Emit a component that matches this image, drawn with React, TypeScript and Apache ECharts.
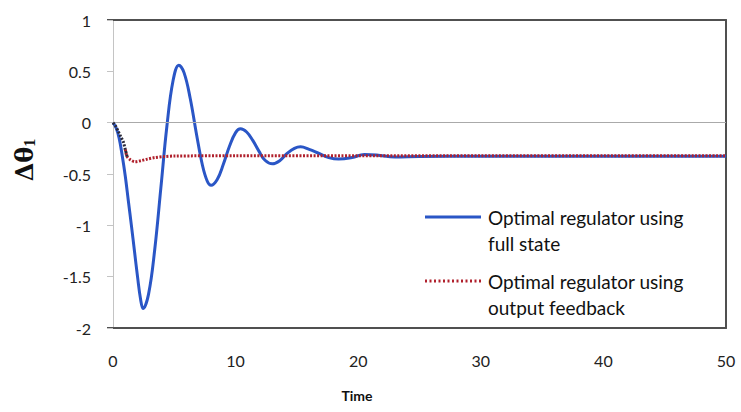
import React, { useEffect, useRef } from "react";
import * as echarts from "echarts";

const xTicks = [0, 10, 20, 30, 40, 50];
const yTicks = [-2, -1.5, -1, -0.5, 0, 0.5, 1];

const fullTime = [0, 0.25, 0.5, 0.75, 1.0, 1.25, 1.5, 1.75, 2.0, 2.25, 2.45, 2.9, 3.4, 3.9, 4.4, 4.9, 5.37, 5.8, 6.3, 6.8, 7.3, 7.7, 8.0, 8.5, 9.0, 9.5, 10.0, 10.4, 10.9, 11.4, 11.9, 12.4, 13.0, 13.6, 14.2, 14.8, 15.3, 16.0, 16.8, 17.6, 18.4, 19.5, 20.5, 21.5, 23, 25, 30, 35, 40, 45, 50];
const fullTheta = [0, -0.05, -0.15, -0.32, -0.52, -0.76, -1.0, -1.25, -1.5, -1.72, -1.81, -1.67, -1.24, -0.64, -0.03, 0.41, 0.56, 0.485, 0.235, -0.105, -0.417, -0.573, -0.61, -0.553, -0.406, -0.23, -0.097, -0.06, -0.091, -0.173, -0.277, -0.366, -0.4, -0.37, -0.3, -0.25, -0.235, -0.26, -0.3, -0.34, -0.355, -0.34, -0.31, -0.315, -0.335, -0.33, -0.328, -0.328, -0.328, -0.328, -0.328];

const earlyTime = [0, 0.2, 0.45, 0.65, 0.85, 1.0, 1.15];
const earlyTheta = [0, -0.03, -0.09, -0.14, -0.19, -0.26, -0.33];

const outTime = [1.0, 1.15, 1.4, 1.8, 2.3, 2.8, 3.4, 4.2, 5, 10, 20, 30, 40, 50];
const outTheta = [-0.26, -0.33, -0.36, -0.38, -0.37, -0.355, -0.34, -0.33, -0.325, -0.322, -0.322, -0.322, -0.322, -0.322];

const seriesNames = ["Optimal regulator using full state", "Optimal regulator using output feedback"];

const BLUE = "#2a56c6";
const RED = "#b0202c";
const FONT = "Lato, 'Open Sans', sans-serif";

const zip = (xs: number[], ys: number[]) => xs.map((x, i) => [x, ys[i]]);

export default function App() {
  const ref = useRef<HTMLDivElement>(null);
  useEffect(() => {
    if (!ref.current) return;
    const chart = echarts.init(ref.current, undefined, { renderer: "svg" });
    chart.setOption({
      animation: false,
      backgroundColor: "#ffffff",
      legend: { show: false, data: seriesNames },
      grid: { left: 113, right: 15, top: 20, bottom: 84, containLabel: false },
      xAxis: [
        {
          type: "value",
          min: xTicks[0],
          max: xTicks[xTicks.length - 1],
          interval: 10,
          position: "bottom",
          axisLine: { show: true, onZero: false, lineStyle: { color: "#505050", width: 2 } },
          axisTick: { show: false },
          splitLine: { show: false },
          axisLabel: { margin: 24, color: "#222", fontSize: 16, fontFamily: FONT },
        },
        {
          type: "value",
          min: xTicks[0],
          max: xTicks[xTicks.length - 1],
          position: "top",
          axisLine: { show: true, onZero: false, lineStyle: { color: "#505050", width: 2 } },
          axisTick: { show: false },
          splitLine: { show: false },
          axisLabel: { show: false },
        },
      ],
      yAxis: [
        {
          type: "value",
          min: yTicks[0],
          max: yTicks[yTicks.length - 1],
          interval: 0.5,
          position: "left",
          axisLine: { show: true, onZero: false, lineStyle: { color: "#c4c4c4", width: 1 } },
          axisTick: { show: true, length: 6, lineStyle: { color: "#c4c4c4" } },
          splitLine: { show: false },
          axisLabel: { margin: 22, color: "#222", fontSize: 16, fontFamily: FONT },
        },
        {
          type: "value",
          min: yTicks[0],
          max: yTicks[yTicks.length - 1],
          position: "right",
          axisLine: { show: true, onZero: false, lineStyle: { color: "#505050", width: 2 } },
          axisTick: { show: false },
          splitLine: { show: false },
          axisLabel: { show: false },
        },
      ],
      series: [
        {
          name: seriesNames[0],
          type: "line",
          data: zip(fullTime, fullTheta),
          smooth: 0.4,
          showSymbol: false,
          lineStyle: { color: BLUE, width: 3 },
          z: 3,
          markLine: {
            silent: true,
            symbol: "none",
            label: { show: false },
            lineStyle: { color: "#aaaaaa", width: 1, type: "solid" },
            data: [{ yAxis: 0 }],
          },
        },
        {
          name: seriesNames[1],
          type: "line",
          data: zip(outTime, outTheta),
          smooth: 0.3,
          showSymbol: false,
          lineStyle: { color: RED, width: 3, type: [2, 1.5] },
          z: 4,
        },
        {
          name: "early",
          type: "line",
          data: zip(earlyTime, earlyTheta),
          smooth: 0.3,
          showSymbol: false,
          lineStyle: { color: "#2a2a3a", width: 3, type: [2, 1.5] },
          z: 5,
        },
      ],
      graphic: [
        {
          type: "line",
          shape: { x1: 107, y1: 20, x2: 113, y2: 20 },
          style: { stroke: "#505050", lineWidth: 2 },
        },
        {
          type: "line",
          shape: { x1: 107, y1: 328, x2: 113, y2: 328 },
          style: { stroke: "#505050", lineWidth: 2 },
        },
        {
          type: "text",
          x: 24,
          y: 160,
          rotation: Math.PI / 2,
          style: {
            text: "{a|Δθ}{b|1}",
            align: "center",
            verticalAlign: "middle",
            rich: {
              a: { fontSize: 24, fontWeight: "bold", fontFamily: "'DejaVu Serif', 'Liberation Serif', serif", fill: "#111", lineHeight: 26 },
              b: { fontSize: 16, fontWeight: "bold", fontFamily: "'Liberation Serif', serif", fill: "#111", lineHeight: 6, verticalAlign: "bottom" },
            },
          },
        },
        {
          type: "text",
          x: 357,
          y: 395,
          style: { text: "Time", align: "center", verticalAlign: "middle", fontSize: 14, fontWeight: "bold", fontFamily: FONT, fill: "#111" },
        },
        {
          type: "line",
          shape: { x1: 425, y1: 217, x2: 481, y2: 217 },
          style: { stroke: BLUE, lineWidth: 3 },
        },
        {
          type: "text",
          x: 488,
          y: 204,
          style: { text: "Optimal regulator using\nfull state", fontSize: 19, lineHeight: 26, fontFamily: FONT, fill: "#111", verticalAlign: "top" },
        },
        {
          type: "line",
          shape: { x1: 425, y1: 281, x2: 482, y2: 281 },
          style: { stroke: RED, lineWidth: 3, lineDash: [2, 2.5] },
        },
        {
          type: "text",
          x: 488,
          y: 268,
          style: { text: "Optimal regulator using\noutput feedback", fontSize: 19, lineHeight: 26, fontFamily: FONT, fill: "#111", verticalAlign: "top" },
        },
      ],
    });
    return () => chart.dispose();
  }, []);
  return <div ref={ref} style={{ width: 741, height: 412, position: "absolute", left: 0, top: 0 }} />;
}
